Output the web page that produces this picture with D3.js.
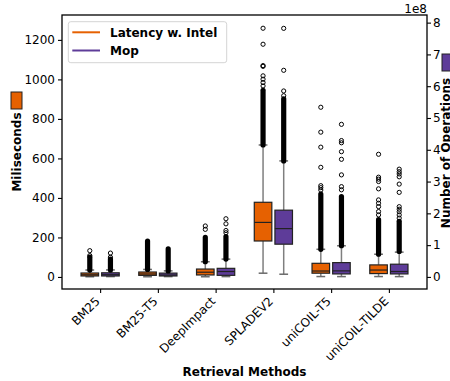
<!DOCTYPE html>
<html>
<head>
<meta charset="utf-8">
<script src="https://cdn.jsdelivr.net/npm/d3@7"></script>
<style>
  body { margin: 0; background: #fff; }
  svg { display: block; font-family: 'DejaVu Sans', sans-serif; }
</style>
</head>
<body>
<svg width="450" height="381"></svg>
<script>
const width = 450;
const height = 381;
const margin = ({top: 15, right: 23, bottom: 92, left: 62});

const methods = ['BM25', 'BM25-T5', 'DeepImpact', 'SPLADEV2', 'uniCOIL-T5', 'uniCOIL-TILDE'];
const series = ['Latency w. Intel', 'Mop'];
const colors = ['#e66101', '#5e3c99'];

// latency in ms: [whisker low, q1, median, q3, whisker high]
const latencyBox = [
  [1, 5, 11, 20, 35],
  [1, 8, 15, 25, 38],
  [1, 10, 24, 40, 77],
  [19, 182, 276, 378, 668],
  [2, 19, 30, 69, 140],
  [2, 17, 35, 61, 115]
];
// range covered by overlapping fliers
const latencyDense = [[35, 100], [38, 182], [77, 200], [668, 945], [140, 420], [115, 290]];
const latencyFliers = [
  [108, 133],
  [],
  [241, 258],
  [967, 984, 1001, 1018, 1066, 1070, 1178, 1259],
  [440, 452, 462, 555, 657, 733, 859],
  [314, 331, 356, 373, 390, 446, 483, 495, 505, 621]
];

// operations in units of 1e8
const mopBox = [
  [0.01, 0.03, 0.07, 0.13, 0.22],
  [0.01, 0.03, 0.06, 0.12, 0.19],
  [0.01, 0.05, 0.17, 0.27, 0.56],
  [0.085, 1.03, 1.52, 2.10, 3.65],
  [0.01, 0.094, 0.19, 0.45, 0.98],
  [0.01, 0.094, 0.17, 0.40, 0.78]
];
const mopDense = [[0.22, 0.56], [0.19, 0.88], [0.56, 1.27], [3.65, 5.6], [0.98, 2.53], [0.80, 1.75]];
const mopFliers = [
  [0.62, 0.75],
  [],
  [1.39, 1.46, 1.67, 1.83],
  [5.7, 5.85, 6.5, 7.82],
  [2.74, 2.84, 3.21, 3.70, 3.94, 4.22, 4.29, 4.80],
  [1.85, 1.95, 2.05, 2.13, 2.21, 2.66, 2.92, 3.15, 3.24, 3.31, 3.39]
];

const leftTicks = [0, 200, 400, 600, 800, 1000, 1200];
const rightTicks = [0, 1, 2, 3, 4, 5, 6, 7, 8];

const svg = d3.select('svg');

const x = d3.scalePoint().domain(methods)
    .range([margin.left, width - margin.right]).padding(0.66);
const xSub = d3.scaleBand().domain(series).range([-19.1, 19.1]).paddingInner(0.15);

const yL = d3.scaleLinear().domain([-61, 1326]).range([height - margin.bottom, margin.top]);
const yR = d3.scaleLinear().domain([-0.38, 8.24]).range([height - margin.bottom, margin.top]);

const groups = [
  {key: series[0], color: colors[0], y: yL, box: latencyBox, dense: latencyDense, fliers: latencyFliers},
  {key: series[1], color: colors[1], y: yR, box: mopBox, dense: mopDense, fliers: mopFliers}
];

const bw = xSub.bandwidth();

groups.forEach(s => {
  const g = svg.append('g');
  const rows = methods.map((m, i) => ({
    m, b: s.box[i], d: s.dense[i], f: s.fliers[i],
    cx: x(m) + xSub(s.key) + bw / 2
  }));

  // whiskers
  g.selectAll('line.wl').data(rows).join('line')
      .attr('x1', d => d.cx).attr('x2', d => d.cx)
      .attr('y1', d => s.y(d.b[0])).attr('y2', d => s.y(d.b[1]))
      .attr('stroke', '#7f7f7f').attr('stroke-width', 1.5);
  g.selectAll('line.wh').data(rows).join('line')
      .attr('x1', d => d.cx).attr('x2', d => d.cx)
      .attr('y1', d => s.y(d.b[3])).attr('y2', d => s.y(d.b[4]))
      .attr('stroke', '#7f7f7f').attr('stroke-width', 1.5);
  [0, 4].forEach(k => {
    g.append('g').selectAll('line').data(rows).join('line')
        .attr('x1', d => d.cx - bw / 4).attr('x2', d => d.cx + bw / 4)
        .attr('y1', d => s.y(d.b[k])).attr('y2', d => s.y(d.b[k]))
        .attr('stroke', '#6a6a6a').attr('stroke-width', 1.5);
  });

  // boxes
  g.append('g').selectAll('rect').data(rows).join('rect')
      .attr('x', d => d.cx - bw / 2).attr('width', bw)
      .attr('y', d => s.y(d.b[3]))
      .attr('height', d => s.y(d.b[1]) - s.y(d.b[3]))
      .attr('fill', s.color)
      .attr('stroke', '#222').attr('stroke-width', 1.2);
  g.append('g').selectAll('line').data(rows).join('line')
      .attr('x1', d => d.cx - bw / 2).attr('x2', d => d.cx + bw / 2)
      .attr('y1', d => s.y(d.b[2])).attr('y2', d => s.y(d.b[2]))
      .attr('stroke', '#222').attr('stroke-width', 1.2);

  // dense fliers drawn as a solid column
  g.append('g').selectAll('line').data(rows).join('line')
      .attr('x1', d => d.cx).attr('x2', d => d.cx)
      .attr('y1', d => s.y(d.d[0])).attr('y2', d => s.y(d.d[1]))
      .attr('stroke', '#000').attr('stroke-width', 5.2)
      .attr('stroke-linecap', 'round');

  // sparse fliers
  g.append('g').selectAll('circle')
      .data(rows.flatMap(d => d.f.map(v => ({cx: d.cx, v}))))
      .join('circle')
      .attr('cx', d => d.cx).attr('cy', d => s.y(d.v))
      .attr('r', 2.1)
      .attr('fill', 'none').attr('stroke', '#000').attr('stroke-width', 1);
});

// axes
const styleAxis = g => g.call(g => g.select('.domain').remove())
    .call(g => g.selectAll('.tick line').attr('stroke', '#000').attr('stroke-width', 1.1))
    .call(g => g.selectAll('.tick text').attr('fill', '#000')
        .attr('font-size', 12).attr('font-family', 'DejaVu Sans'));

svg.append('g')
    .attr('transform', `translate(${margin.left},0)`)
    .call(d3.axisLeft(yL).tickValues(leftTicks).tickSize(4).tickPadding(3).tickFormat(d3.format('d')))
    .call(styleAxis);

svg.append('g')
    .attr('transform', `translate(${width - margin.right},0)`)
    .call(d3.axisRight(yR).tickValues(rightTicks).tickSize(4).tickPadding(2).tickFormat(d3.format('d')))
    .call(styleAxis);

svg.append('g')
    .attr('transform', `translate(0,${height - margin.bottom})`)
    .call(d3.axisBottom(x).tickSize(4))
    .call(styleAxis)
    .call(g => g.selectAll('.tick text')
        .attr('text-anchor', 'end')
        .attr('dy', 0)
        .attr('y', 0)
        .attr('transform', 'translate(0,13) rotate(-45)'));

// frame
svg.append('rect')
    .attr('x', margin.left).attr('y', margin.top)
    .attr('width', width - margin.right - margin.left)
    .attr('height', height - margin.bottom - margin.top)
    .attr('fill', 'none').attr('stroke', '#000').attr('stroke-width', 1.3);

// offset text
svg.append('text')
    .attr('x', width - margin.right).attr('y', 13)
    .attr('text-anchor', 'end').attr('font-size', 12)
    .text('1e8');

// axis titles
svg.append('text')
    .attr('transform', `translate(${(margin.left + width - margin.right) / 2},376)`)
    .attr('text-anchor', 'middle')
    .attr('font-size', 12).attr('font-weight', 'bold')
    .text('Retrieval Methods');

svg.append('text')
    .attr('transform', 'translate(21,152) rotate(-90)')
    .attr('text-anchor', 'middle')
    .attr('font-size', 12).attr('font-weight', 'bold')
    .text('Miliseconds');
svg.append('rect')
    .attr('x', 11).attr('y', 92).attr('width', 11).attr('height', 17)
    .attr('fill', colors[0]).attr('stroke', '#222').attr('stroke-width', 1);

svg.append('text')
    .attr('transform', 'translate(450,153) rotate(-90)')
    .attr('text-anchor', 'middle')
    .attr('font-size', 12).attr('font-weight', 'bold')
    .text('Number of Operations');
svg.append('rect')
    .attr('x', 442).attr('y', 54).attr('width', 11).attr('height', 17)
    .attr('fill', colors[1]).attr('stroke', '#222').attr('stroke-width', 1);

// legend
const legend = svg.append('g');
legend.append('rect')
    .attr('x', 68.3).attr('y', 21.7).attr('width', 158.4).attr('height', 41)
    .attr('rx', 2.5)
    .attr('fill', '#fff').attr('fill-opacity', 0.8)
    .attr('stroke', '#d4d4d4').attr('stroke-width', 1);
const li = legend.selectAll('g.item').data(series).join('g')
    .attr('transform', (d, i) => `translate(0,${32.3 + i * 18.2})`);
li.append('line')
    .attr('x1', 72.3).attr('x2', 100)
    .attr('stroke', (d, i) => colors[i]).attr('stroke-width', 2);
li.append('text')
    .attr('x', 110).attr('dy', '0.35em')
    .attr('font-size', 12).attr('font-weight', 'bold')
    .text(d => d);
</script>
</body>
</html>
